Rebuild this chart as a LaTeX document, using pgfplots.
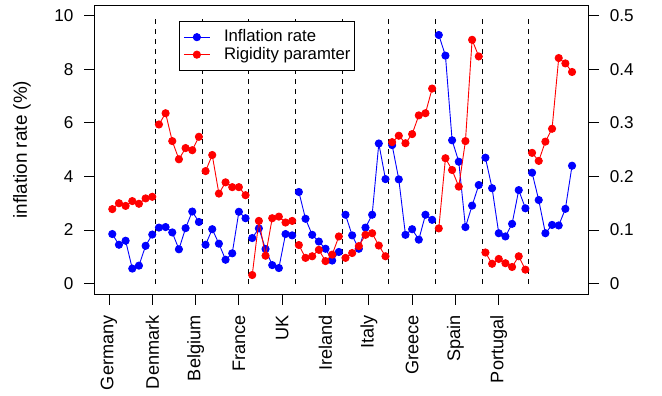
\documentclass[border=0pt]{standalone}
\usepackage{pgfplots}
\pgfplotsset{compat=1.18}
\usepackage{pgfplotstable}
\usepackage{fontspec}
\setmainfont{Liberation Sans}

% Seven yearly observations per country; a nan row breaks the line between countries.
\pgfplotstableread{
i    infl  rho
1    1.85  0.139
2    1.45  0.150
3    1.60  0.145
4    0.56  0.154
5    0.67  0.149
6    1.41  0.159
7    1.83  0.162
7.5  nan   nan
8    2.09  0.297
9    2.11  0.318
10   1.91  0.266
11   1.28  0.232
12   2.07  0.253
13   2.69  0.249
14   2.30  0.274
14.5 nan   nan
15   1.45  0.210
16   2.03  0.240
17   1.49  0.168
18   0.89  0.189
19   1.13  0.180
20   2.68  0.180
21   2.44  0.165
21.5 nan   nan
22   1.70  0.016
23   2.06  0.117
24   1.29  0.052
25   0.69  0.122
26   0.58  0.125
27   1.85  0.114
28   1.80  0.117
28.5 nan   nan
29   3.42  0.072
30   2.42  0.048
31   1.82  0.051
32   1.57  0.063
33   1.30  0.042
34   0.86  0.054
35   1.18  0.088
35.5 nan   nan
36   2.57  0.048
37   1.80  0.057
38   1.30  0.070
39   2.09  0.091
40   2.57  0.094
41   5.23  0.071
42   3.90  0.051
42.5 nan   nan
43   5.17  0.264
44   3.89  0.276
45   1.82  0.262
46   2.03  0.279
47   1.64  0.314
48   2.57  0.318
49   2.38  0.364
49.5 nan   nan
50   9.28  0.103
51   8.51  0.234
52   5.35  0.212
53   4.55  0.181
54   2.11  0.266
55   2.91  0.455
56   3.68  0.424
56.5 nan   nan
57   4.70  0.058
58   3.56  0.037
59   1.88  0.046
60   1.76  0.038
61   2.23  0.031
62   3.49  0.051
63   2.81  0.026
63.5 nan   nan
64   4.14  0.244
65   3.12  0.229
66   1.88  0.265
67   2.19  0.289
68   2.17  0.421
69   2.79  0.411
70   4.40  0.395
}\ratetable

\newcommand{\chartfont}{\fontsize{17.2}{20}\selectfont}
\newcommand{\countryfont}{\fontsize{18.2}{21}\selectfont}
\newcommand{\labelfont}{\fontsize{19}{22}\selectfont}
\newcommand{\legendfont}{\fontsize{16.8}{20}\selectfont}

\pgfplotsset{
  frame/.style={
    width=494bp, height=289.3bp, scale only axis,
    xmin=-1.64, xmax=72.5,
    tick align=outside, major tick length=10.5bp,
    axis line style={line width=0.9bp},
    every tick/.style={black, line width=0.9bp},
    tick label style={font=\chartfont},
    /pgf/number format/assume math mode=true,
    unbounded coords=jump,
  },
  series/.style={line width=0.9bp, mark=*, mark size=3.6bp, #1, mark options={fill=#1, draw=#1}},
  separator/.style={black, line width=0.9bp, dash pattern=on 5bp off 5bp},
}

\begin{document}
\begin{tikzpicture}[font=\chartfont]
% left axis: inflation rate
\begin{axis}[frame,
  ymin=-0.4, ymax=10.4,
  xtick={0.5,7,13.5,20,26.5,33,39.5,46,52.5,59},
  xticklabels={Germany,Denmark,Belgium,France,UK,Ireland,Italy,Greece,Spain,Portugal},
  xtick pos=bottom, ytick pos=left,
  ytick={0,2,4,6,8,10},
  xticklabel style={font=\countryfont, inner sep=0pt, yshift=-10.5bp, rotate=90, anchor=east},
  yticklabel style={inner sep=0pt, xshift=-10.5bp, anchor=east},
  ylabel={inflation rate (\%)},
  every axis y label/.style={at={(axis description cs:-0.147,0.5)}, rotate=90, anchor=center, font=\labelfont},
]
\addplot[series=blue] table[x=i, y=infl] {\ratetable};
% country separators
\addplot[separator] coordinates {(7.5,0) (7.5,10)};
\addplot[separator] coordinates {(14.5,0) (14.5,10)};
\addplot[separator] coordinates {(21.5,0) (21.5,10)};
\addplot[separator] coordinates {(28.5,0) (28.5,10)};
\addplot[separator] coordinates {(35.5,0) (35.5,10)};
\addplot[separator] coordinates {(42.5,0) (42.5,10)};
\addplot[separator] coordinates {(49.5,0) (49.5,10)};
\addplot[separator] coordinates {(56.5,0) (56.5,10)};
\addplot[separator] coordinates {(63.5,0) (63.5,10)};
\end{axis}

% right axis: rigidity parameter
\begin{axis}[frame,
  ymin=-0.02, ymax=0.52,
  axis x line=none, axis y line*=right,
  ytick={0,0.1,0.2,0.3,0.4,0.5},
  yticklabel style={inner sep=0pt, xshift=10.5bp, anchor=west,
    /pgf/number format/.cd, fixed, precision=1},
  legend style={at={(axis description cs:0.1706,0.9457)}, anchor=north west,
    draw=black, line width=0.9bp, fill=white, font=\legendfont,
    inner xsep=4bp, inner ysep=8bp, row sep=1.5bp,
    nodes={inner sep=0pt, text height=12.5bp, text depth=3.5bp},
    /tikz/every odd column/.append style={column sep=13.7bp}},
  legend cell align=left,
  legend image code/.code={\draw[mark repeat=2, mark phase=2] plot coordinates {(0bp,0bp) (13bp,0bp) (26bp,0bp)};},
]
\addlegendimage{series=blue}
\addlegendentry{Inflation rate}
\addplot[series=red] table[x=i, y=rho] {\ratetable};
\addlegendentry{Rigidity paramter}
\node[font=\labelfont] at (axis description cs:1.134,0.464) {ρ};
\end{axis}

\pgfresetboundingbox
\path[use as bounding box] (-94.7bp,-101.7bp) rectangle (567.3bp,294.3bp);
\end{tikzpicture}
\end{document}
